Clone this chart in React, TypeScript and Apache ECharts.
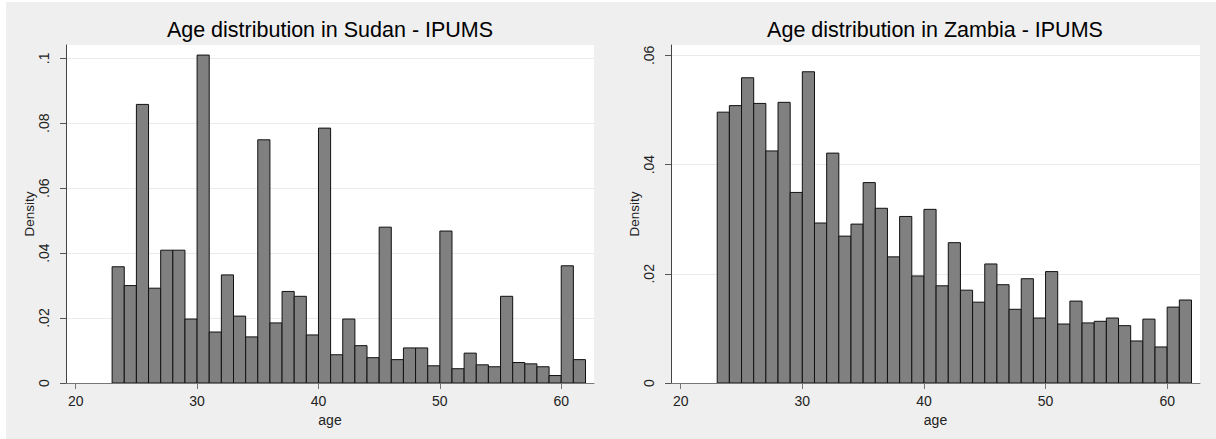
import React, { useEffect, useRef } from "react";
import * as echarts from "echarts";

// Histogram bins (start of each 1-year bin)
const ageBins = [23, 24, 25, 26, 27, 28, 29, 30, 31, 32, 33, 34, 35, 36, 37, 38, 39, 40, 41, 42, 43, 44, 45, 46, 47, 48, 49, 50, 51, 52, 53, 54, 55, 56, 57, 58, 59, 60, 61];

const sudanDensity = [
  0.0358, 0.0300, 0.0858, 0.0292, 0.0409, 0.0409, 0.0197, 0.1010, 0.0157, 0.0333,
  0.0206, 0.0142, 0.0749, 0.0185, 0.0282, 0.0267, 0.0148, 0.0785, 0.0087, 0.0197,
  0.0115, 0.0078, 0.0480, 0.0072, 0.0108, 0.0108, 0.0053, 0.0468, 0.0044, 0.0092,
  0.0056, 0.0050, 0.0267, 0.0063, 0.0059, 0.0050, 0.0023, 0.0361, 0.0072,
];

const zambiaDensity = [
  0.0496, 0.0508, 0.0559, 0.0512, 0.0425, 0.0514, 0.0349, 0.0570, 0.0293, 0.0421,
  0.0269, 0.0291, 0.0367, 0.0320, 0.0231, 0.0305, 0.0196, 0.0318, 0.0178, 0.0257,
  0.0170, 0.0148, 0.0218, 0.0180, 0.0135, 0.0191, 0.0119, 0.0204, 0.0108, 0.0150,
  0.0110, 0.0113, 0.0119, 0.0105, 0.0077, 0.0117, 0.0066, 0.0139, 0.0152,
];

const xTicks = [20, 30, 40, 50, 60];
const sudanYTicks = [0, 0.02, 0.04, 0.06, 0.08, 0.1];
const zambiaYTicks = [0, 0.02, 0.04, 0.06];

const titles = ["Age distribution in Sudan - IPUMS", "Age distribution in Zambia - IPUMS"];

const FONT = "'Liberation Sans', Arial, sans-serif";

function fmtDensity(v: number): string {
  if (v === 0) return "0";
  return String(v).replace(/^0/, "");
}

function renderBar(params: any, api: any) {
  const x0 = api.value(0);
  const y = api.value(1);
  const p0 = api.coord([x0, y]);
  const p1 = api.coord([x0 + 1, 0]);
  return {
    type: "rect",
    shape: { x: p0[0], y: p0[1], width: p1[0] - p0[0], height: p1[1] - p0[1] },
    style: { fill: "#808080", stroke: "#111", lineWidth: 1 },
  };
}

function makeXAxis(gridIndex: number) {
  return {
    type: "value",
    gridIndex,
    min: 19.2,
    max: 62.7,
    name: "age",
    nameLocation: "middle",
    nameGap: 18,
    nameTextStyle: { fontFamily: FONT, fontSize: 14, color: "#222" },
    axisLine: { show: true, onZero: false, lineStyle: { color: "#777", width: 1 } },
    axisTick: { show: true, length: 6, customValues: xTicks, lineStyle: { color: "#777" } },
    axisLabel: { customValues: xTicks, margin: 11, fontFamily: FONT, fontSize: 14, color: "#222" },
    splitLine: { show: false },
  };
}

function makeYAxis(gridIndex: number, max: number, ticks: number[]) {
  return {
    type: "value",
    gridIndex,
    min: 0,
    max,
    interval: 0.02,
    name: "Density",
    nameLocation: "middle",
    nameGap: 29,
    nameTextStyle: { fontFamily: FONT, fontSize: 13.5, color: "#222" },
    axisLine: { show: true, onZero: false, lineStyle: { color: "#444", width: 1 } },
    axisTick: { show: true, length: 6, customValues: ticks, lineStyle: { color: "#555" } },
    axisLabel: {
      customValues: ticks,
      rotate: 90,
      margin: 15,
      fontFamily: FONT,
      fontSize: 14,
      color: "#222",
      formatter: (v: number) => fmtDensity(v),
    },
    splitLine: { show: true, lineStyle: { color: "#ebebeb", width: 1 } },
  };
}

export default function App() {
  const ref = useRef<HTMLDivElement>(null);
  useEffect(() => {
    if (!ref.current) return;
    const chart = echarts.init(ref.current, null, { renderer: "svg" });
    const sudanData = ageBins.map((b, i) => [b, sudanDensity[i]]);
    const zambiaData = ageBins.map((b, i) => [b, zambiaDensity[i]]);
    chart.setOption({
      animation: false,
      backgroundColor: "#ffffff",
      graphic: [
        {
          type: "rect",
          z: -10,
          silent: true,
          shape: { x: 6, y: 2, width: 1210, height: 437 },
          style: { fill: "#efefef" },
        },
      ],
      title: [
        {
          text: titles[0],
          left: 330,
          top: 19,
          padding: 0,
          textAlign: "center",
          textStyle: { fontFamily: FONT, fontSize: 21.5, fontWeight: "normal", color: "#000" },
        },
        {
          text: titles[1],
          left: 935,
          top: 19,
          padding: 0,
          textAlign: "center",
          textStyle: { fontFamily: FONT, fontSize: 21.5, fontWeight: "normal", color: "#000" },
        },
      ],
      grid: [
        { left: 66, top: 45, width: 528, height: 338, show: true, backgroundColor: "#fff", borderWidth: 0 },
        { left: 671, top: 45, width: 529, height: 338, show: true, backgroundColor: "#fff", borderWidth: 0 },
      ],
      xAxis: [makeXAxis(0), makeXAxis(1)],
      yAxis: [makeYAxis(0, 0.1041, sudanYTicks), makeYAxis(1, 0.0619, zambiaYTicks)],
      series: [
        {
          type: "custom",
          xAxisIndex: 0,
          yAxisIndex: 0,
          renderItem: renderBar,
          encode: { x: 0, y: 1 },
          data: sudanData,
          clip: true,
        },
        {
          type: "custom",
          xAxisIndex: 1,
          yAxisIndex: 1,
          renderItem: renderBar,
          encode: { x: 0, y: 1 },
          data: zambiaData,
          clip: true,
        },
      ],
    });
    return () => chart.dispose();
  }, []);
  return (
    <div
      ref={ref}
      style={{ position: "absolute", left: 0, top: 0, width: 1216, height: 439 }}
    />
  );
}
